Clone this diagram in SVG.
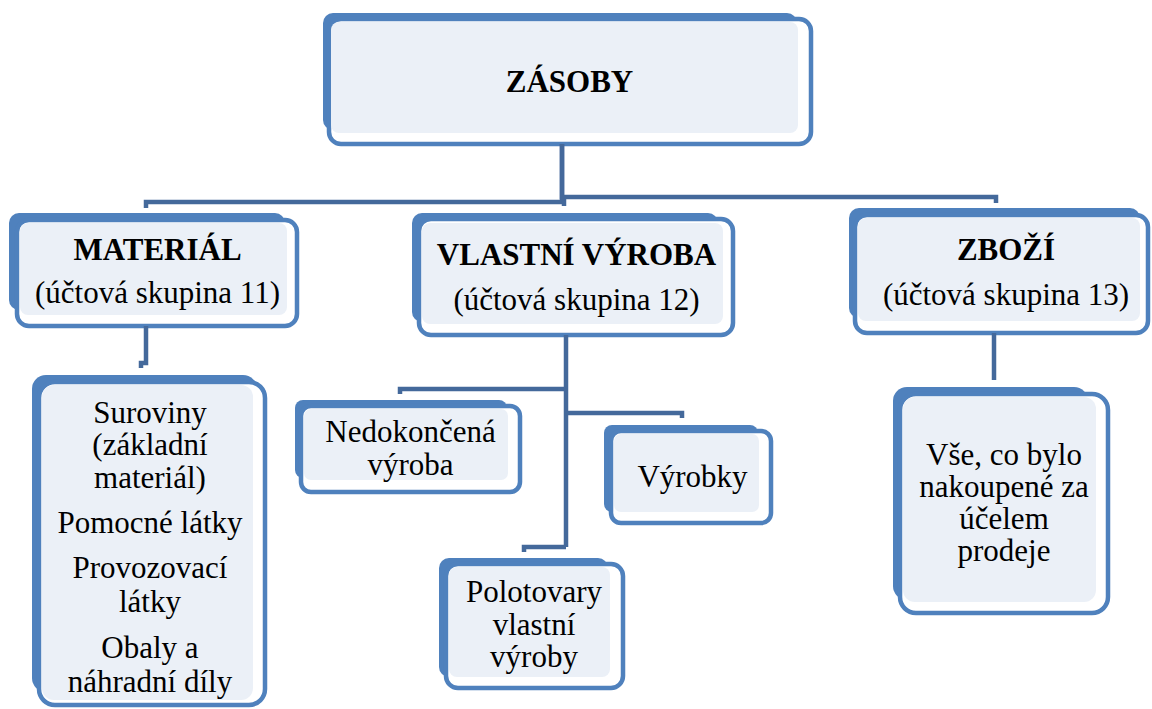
<svg xmlns="http://www.w3.org/2000/svg" width="1152" height="709" viewBox="0 0 1152 709">
<style>
.bk{fill:#4F81BD}
.ol{fill:#FFFFFF;stroke:#4F81BD;stroke-width:4.5}
.lt{fill:#EBF0F7}
.t{font-family:"Liberation Serif","Times New Roman",serif;font-size:31px;fill:#000;text-anchor:middle}
.b{font-weight:bold}
.c{fill:none;stroke:#44699B;stroke-width:4.5;stroke-linejoin:miter}
</style>
<rect width="1152" height="709" fill="#FFFFFF"/>
<g id="n-zasoby">
<rect class="bk" x="323" y="13" width="474" height="117" rx="10"/>
<rect class="ol" x="329" y="19" width="482" height="125" rx="12"/>
<rect class="lt" x="331" y="22" width="467" height="111" rx="8"/>
<text class="t b" x="569.5" y="92">ZÁSOBY</text>
</g>
<g id="n-material">
<rect class="bk" x="9" y="213" width="276" height="97" rx="10"/>
<rect class="ol" x="17" y="220" width="280" height="106" rx="12"/>
<rect class="lt" x="20" y="223" width="267" height="92" rx="8"/>
<text class="t b" x="157.5" y="260">MATERIÁL</text>
<text class="t" x="157.5" y="303">(účtová skupina 11)</text>
</g>
<g id="n-vlastni">
<rect class="bk" x="412" y="213" width="306" height="109" rx="10"/>
<rect class="ol" x="419" y="219" width="314" height="116" rx="12"/>
<rect class="lt" x="422" y="223" width="301" height="101" rx="8"/>
<text class="t b" x="576.5" y="265">VLASTNÍ VÝROBA</text>
<text class="t" x="576.5" y="310">(účtová skupina 12)</text>
</g>
<g id="n-zbozi">
<rect class="bk" x="849" y="208" width="291" height="110" rx="10"/>
<rect class="ol" x="855" y="215" width="293" height="118" rx="12"/>
<rect class="lt" x="858" y="218" width="282" height="103" rx="8"/>
<text class="t b" x="1006" y="260">ZBOŽÍ</text>
<text class="t" x="1006" y="305">(účtová skupina 13)</text>
</g>
<g id="n-suroviny">
<rect class="bk" x="32" y="375" width="225" height="317" rx="14"/>
<rect class="ol" x="39" y="382" width="226" height="323" rx="16"/>
<rect class="lt" x="42" y="385" width="211" height="315" rx="12"/>
<text class="t" x="150" y="423">Suroviny</text>
<text class="t" x="150" y="455">(základní</text>
<text class="t" x="150" y="488">materiál)</text>
<text class="t" x="150" y="533">Pomocné látky</text>
<text class="t" x="150" y="578">Provozovací</text>
<text class="t" x="150" y="612">látky</text>
<text class="t" x="150" y="658">Obaly a</text>
<text class="t" x="150" y="692">náhradní díly</text>
</g>
<g id="n-nedokoncena">
<rect class="bk" x="295" y="400" width="212" height="78" rx="8"/>
<rect class="ol" x="301" y="406" width="219" height="86" rx="10"/>
<rect class="lt" x="304" y="409" width="204" height="71" rx="7"/>
<text class="t" x="410.5" y="442">Nedokončená</text>
<text class="t" x="410.5" y="475">výroba</text>
</g>
<g id="n-vyrobky">
<rect class="bk" x="604" y="425" width="154" height="87" rx="8"/>
<rect class="ol" x="611" y="431" width="160" height="92" rx="10"/>
<rect class="lt" x="614" y="434" width="145" height="78" rx="7"/>
<text class="t" x="692.5" y="487">Výrobky</text>
</g>
<g id="n-polotovary">
<rect class="bk" x="439" y="558" width="169" height="119" rx="10"/>
<rect class="ol" x="446" y="564" width="177" height="124" rx="12"/>
<rect class="lt" x="449" y="567" width="161" height="110" rx="8"/>
<text class="t" x="534" y="602">Polotovary</text>
<text class="t" x="534" y="635">vlastní</text>
<text class="t" x="534" y="667">výroby</text>
</g>
<g id="n-vse">
<rect class="bk" x="893" y="387" width="195" height="213" rx="14"/>
<rect class="ol" x="900" y="394" width="208" height="219" rx="16"/>
<rect class="lt" x="903" y="397" width="193" height="205" rx="12"/>
<text class="t" x="1004" y="465">Vše, co bylo</text>
<text class="t" x="1004" y="497">nakoupené za</text>
<text class="t" x="1004" y="529">účelem</text>
<text class="t" x="1004" y="561">prodeje</text>
</g>
<g id="connectors">
<path class="c" d="M562,144 V202 H146 V208"/>
<path class="c" d="M562,144 V197 H996 V203"/>
<path class="c" d="M564,197 V206"/>
<path class="c" d="M146,326 V363 H141 V368"/>
<path class="c" d="M994,333 V380"/>
<path class="c" d="M566,335 V547"/>
<path class="c" d="M566,389 H400 V394"/>
<path class="c" d="M566,413 H682 V418"/>
<path class="c" d="M566,547 H524 V552"/>
</g>
</svg>
